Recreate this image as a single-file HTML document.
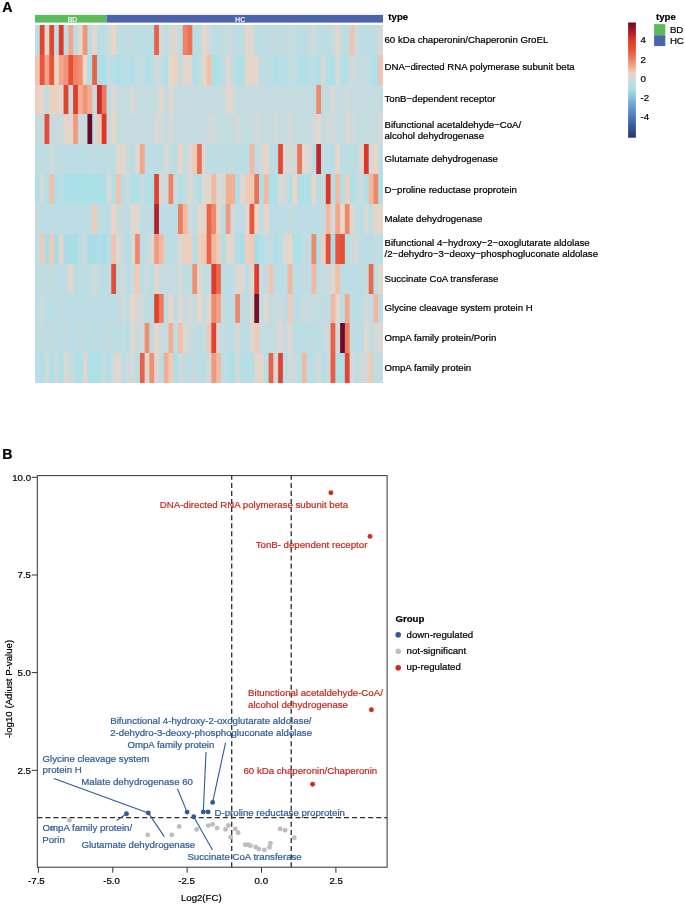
<!DOCTYPE html>
<html lang="en"><head><meta charset="utf-8"><title>Figure</title>
<style>html,body{margin:0;padding:0;background:#fff}svg{display:block}text{font-family:"Liberation Sans",sans-serif;stroke-width:0.22px;paint-order:stroke fill}</style></head><body>
<svg width="685" height="904" viewBox="0 0 685 904">
<rect width="685" height="904" fill="#fff"/>
<text x="2.3" y="11.5" font-size="14.2" font-weight="bold" fill="#000" stroke="#000">A</text>
<rect x="35.0" y="14.9" width="71.51" height="7.7" fill="#5bbd5a"/>
<rect x="106.51" y="14.9" width="276.49" height="7.7" fill="#4c64ae"/>
<text x="72.5" y="21.6" font-size="6.7" fill="#fff" stroke="#fff" text-anchor="middle">BD</text>
<text x="240.2" y="21.6" font-size="6.7" fill="#fff" stroke="#fff" text-anchor="middle">HC</text>
<text x="388.3" y="19.9" font-size="9.66" font-weight="bold" fill="#000" stroke="#000">type</text>
<g>
<rect x="35.00" y="25.00" width="348.00" height="358.00" fill="#bcdde4"/>
<rect x="39.77" y="25.00" width="343.23" height="358.00" fill="#e44531"/>
<rect x="44.53" y="25.00" width="338.47" height="358.00" fill="#e0d7cf"/>
<rect x="49.30" y="25.00" width="333.70" height="358.00" fill="#e44531"/>
<rect x="54.07" y="25.00" width="328.93" height="358.00" fill="#bcdde4"/>
<rect x="58.84" y="25.00" width="324.16" height="358.00" fill="#e0382a"/>
<rect x="63.60" y="25.00" width="319.40" height="358.00" fill="#bcdde4"/>
<rect x="68.37" y="25.00" width="314.63" height="358.00" fill="#f2a78c"/>
<rect x="73.14" y="25.00" width="309.86" height="358.00" fill="#bcdde4"/>
<rect x="77.90" y="25.00" width="305.10" height="358.00" fill="#e8d6c8"/>
<rect x="82.67" y="25.00" width="300.33" height="358.00" fill="#f09579"/>
<rect x="87.44" y="25.00" width="295.56" height="358.00" fill="#bcdde4"/>
<rect x="92.21" y="25.00" width="290.79" height="358.00" fill="#e8d6c8"/>
<rect x="96.97" y="25.00" width="286.03" height="358.00" fill="#bcdde4"/>
<rect x="106.51" y="25.00" width="276.49" height="358.00" fill="#cddadb"/>
<rect x="111.27" y="25.00" width="271.73" height="358.00" fill="#ecd5c5"/>
<rect x="116.04" y="25.00" width="266.96" height="358.00" fill="#c2dce1"/>
<rect x="120.81" y="25.00" width="262.19" height="358.00" fill="#bcdde4"/>
<rect x="125.58" y="25.00" width="257.42" height="358.00" fill="#c7dbde"/>
<rect x="130.34" y="25.00" width="252.66" height="358.00" fill="#bcdde4"/>
<rect x="154.18" y="25.00" width="228.82" height="358.00" fill="#ea6145"/>
<rect x="158.95" y="25.00" width="224.05" height="358.00" fill="#d2d9d8"/>
<rect x="163.71" y="25.00" width="219.29" height="358.00" fill="#bcdde4"/>
<rect x="168.48" y="25.00" width="214.52" height="358.00" fill="#dcd7d2"/>
<rect x="173.25" y="25.00" width="209.75" height="358.00" fill="#d8d8d5"/>
<rect x="178.01" y="25.00" width="204.99" height="358.00" fill="#c2dce1"/>
<rect x="182.78" y="25.00" width="200.22" height="358.00" fill="#ee8366"/>
<rect x="187.55" y="25.00" width="195.45" height="358.00" fill="#ec7356"/>
<rect x="192.32" y="25.00" width="190.68" height="358.00" fill="#bcdde4"/>
<rect x="201.85" y="25.00" width="181.15" height="358.00" fill="#ecd5c5"/>
<rect x="206.62" y="25.00" width="176.38" height="358.00" fill="#cddadb"/>
<rect x="211.38" y="25.00" width="171.62" height="358.00" fill="#bcdde4"/>
<rect x="220.92" y="25.00" width="162.08" height="358.00" fill="#c4dce0"/>
<rect x="230.45" y="25.00" width="152.55" height="358.00" fill="#c7dbde"/>
<rect x="235.22" y="25.00" width="147.78" height="358.00" fill="#bcdde4"/>
<rect x="244.75" y="25.00" width="138.25" height="358.00" fill="#e4d6cb"/>
<rect x="249.52" y="25.00" width="133.48" height="358.00" fill="#dcd7d2"/>
<rect x="254.29" y="25.00" width="128.71" height="358.00" fill="#bcdde4"/>
<rect x="268.59" y="25.00" width="114.41" height="358.00" fill="#c4dce0"/>
<rect x="278.12" y="25.00" width="104.88" height="358.00" fill="#bcdde4"/>
<rect x="282.89" y="25.00" width="100.11" height="358.00" fill="#c4dce0"/>
<rect x="297.19" y="25.00" width="85.81" height="358.00" fill="#bcdde4"/>
<rect x="306.73" y="25.00" width="76.27" height="358.00" fill="#c4dce0"/>
<rect x="311.49" y="25.00" width="71.51" height="358.00" fill="#d2d9d8"/>
<rect x="316.26" y="25.00" width="66.74" height="358.00" fill="#bcdde4"/>
<rect x="330.56" y="25.00" width="52.44" height="358.00" fill="#c7dbde"/>
<rect x="335.33" y="25.00" width="47.67" height="358.00" fill="#e0d7cf"/>
<rect x="340.10" y="25.00" width="42.90" height="358.00" fill="#c2dce1"/>
<rect x="344.86" y="25.00" width="38.14" height="358.00" fill="#bcdde4"/>
<rect x="349.63" y="25.00" width="33.37" height="358.00" fill="#f0c4af"/>
<rect x="354.40" y="25.00" width="28.60" height="358.00" fill="#cddadb"/>
<rect x="359.16" y="25.00" width="23.84" height="358.00" fill="#bcdde4"/>
<rect x="373.47" y="25.00" width="9.53" height="358.00" fill="#c2dce1"/>
<rect x="378.23" y="25.00" width="4.77" height="358.00" fill="#d8d8d5"/>
<rect x="35.00" y="55.00" width="348.00" height="328.00" fill="#f0c4af"/>
<rect x="39.77" y="55.00" width="343.23" height="328.00" fill="#e8553a"/>
<rect x="44.53" y="55.00" width="338.47" height="328.00" fill="#f1a186"/>
<rect x="49.30" y="55.00" width="333.70" height="328.00" fill="#e8553a"/>
<rect x="54.07" y="55.00" width="328.93" height="328.00" fill="#ecd5c5"/>
<rect x="58.84" y="55.00" width="324.16" height="328.00" fill="#f2a78c"/>
<rect x="63.60" y="55.00" width="319.40" height="328.00" fill="#f09579"/>
<rect x="68.37" y="55.00" width="314.63" height="328.00" fill="#e64f36"/>
<rect x="73.14" y="55.00" width="309.86" height="328.00" fill="#ee8366"/>
<rect x="77.90" y="55.00" width="305.10" height="328.00" fill="#f08f72"/>
<rect x="82.67" y="55.00" width="300.33" height="328.00" fill="#ecd5c5"/>
<rect x="87.44" y="55.00" width="295.56" height="328.00" fill="#afdfe7"/>
<rect x="92.21" y="55.00" width="290.79" height="328.00" fill="#ea6145"/>
<rect x="96.97" y="55.00" width="286.03" height="328.00" fill="#ace0e8"/>
<rect x="106.51" y="55.00" width="276.49" height="328.00" fill="#c2dce1"/>
<rect x="111.27" y="55.00" width="271.73" height="328.00" fill="#b9dee5"/>
<rect x="116.04" y="55.00" width="266.96" height="328.00" fill="#ace0e8"/>
<rect x="120.81" y="55.00" width="262.19" height="328.00" fill="#b9dee5"/>
<rect x="130.34" y="55.00" width="252.66" height="328.00" fill="#afdfe7"/>
<rect x="135.11" y="55.00" width="247.89" height="328.00" fill="#c2dce1"/>
<rect x="144.64" y="55.00" width="238.36" height="328.00" fill="#afdfe7"/>
<rect x="149.41" y="55.00" width="233.59" height="328.00" fill="#b9dee5"/>
<rect x="154.18" y="55.00" width="228.82" height="328.00" fill="#d2d9d8"/>
<rect x="158.95" y="55.00" width="224.05" height="328.00" fill="#c2dce1"/>
<rect x="163.71" y="55.00" width="219.29" height="328.00" fill="#afdfe7"/>
<rect x="168.48" y="55.00" width="214.52" height="328.00" fill="#e8d6c8"/>
<rect x="173.25" y="55.00" width="209.75" height="328.00" fill="#edcfbe"/>
<rect x="178.01" y="55.00" width="204.99" height="328.00" fill="#c7dbde"/>
<rect x="182.78" y="55.00" width="200.22" height="328.00" fill="#e4d6cb"/>
<rect x="192.32" y="55.00" width="190.68" height="328.00" fill="#afdfe7"/>
<rect x="197.08" y="55.00" width="185.92" height="328.00" fill="#c2dce1"/>
<rect x="201.85" y="55.00" width="181.15" height="328.00" fill="#e0d7cf"/>
<rect x="206.62" y="55.00" width="176.38" height="328.00" fill="#f2bfa7"/>
<rect x="211.38" y="55.00" width="171.62" height="328.00" fill="#afdfe7"/>
<rect x="220.92" y="55.00" width="162.08" height="328.00" fill="#bcdde4"/>
<rect x="225.68" y="55.00" width="157.32" height="328.00" fill="#e4d6cb"/>
<rect x="230.45" y="55.00" width="152.55" height="328.00" fill="#c2dce1"/>
<rect x="235.22" y="55.00" width="147.78" height="328.00" fill="#afdfe7"/>
<rect x="244.75" y="55.00" width="138.25" height="328.00" fill="#e4d6cb"/>
<rect x="259.05" y="55.00" width="123.95" height="328.00" fill="#bcdde4"/>
<rect x="263.82" y="55.00" width="119.18" height="328.00" fill="#c2dce1"/>
<rect x="268.59" y="55.00" width="114.41" height="328.00" fill="#b9dee5"/>
<rect x="273.36" y="55.00" width="109.64" height="328.00" fill="#afdfe7"/>
<rect x="278.12" y="55.00" width="104.88" height="328.00" fill="#b9dee5"/>
<rect x="287.66" y="55.00" width="95.34" height="328.00" fill="#c2dce1"/>
<rect x="292.42" y="55.00" width="90.58" height="328.00" fill="#c4dce0"/>
<rect x="297.19" y="55.00" width="85.81" height="328.00" fill="#afdfe7"/>
<rect x="306.73" y="55.00" width="76.27" height="328.00" fill="#b9dee5"/>
<rect x="316.26" y="55.00" width="66.74" height="328.00" fill="#afdfe7"/>
<rect x="321.03" y="55.00" width="61.97" height="328.00" fill="#d8d8d5"/>
<rect x="325.79" y="55.00" width="57.21" height="328.00" fill="#afdfe7"/>
<rect x="335.33" y="55.00" width="47.67" height="328.00" fill="#d8d8d5"/>
<rect x="340.10" y="55.00" width="42.90" height="328.00" fill="#afdfe7"/>
<rect x="344.86" y="55.00" width="38.14" height="328.00" fill="#bcdde4"/>
<rect x="349.63" y="55.00" width="33.37" height="328.00" fill="#d2d9d8"/>
<rect x="354.40" y="55.00" width="28.60" height="328.00" fill="#c7dbde"/>
<rect x="359.16" y="55.00" width="23.84" height="328.00" fill="#c2dce1"/>
<rect x="363.93" y="55.00" width="19.07" height="328.00" fill="#c7dbde"/>
<rect x="368.70" y="55.00" width="14.30" height="328.00" fill="#b9dee5"/>
<rect x="373.47" y="55.00" width="9.53" height="328.00" fill="#afdfe7"/>
<rect x="378.23" y="55.00" width="4.77" height="328.00" fill="#f0c4af"/>
<rect x="35.00" y="85.00" width="348.00" height="298.00" fill="#edcfbe"/>
<rect x="39.77" y="85.00" width="343.23" height="298.00" fill="#e4d6cb"/>
<rect x="44.53" y="85.00" width="338.47" height="298.00" fill="#c2dce1"/>
<rect x="49.30" y="85.00" width="333.70" height="298.00" fill="#edcfbe"/>
<rect x="58.84" y="85.00" width="324.16" height="298.00" fill="#e0d7cf"/>
<rect x="63.60" y="85.00" width="319.40" height="298.00" fill="#e3422f"/>
<rect x="68.37" y="85.00" width="314.63" height="298.00" fill="#c7dbde"/>
<rect x="73.14" y="85.00" width="309.86" height="298.00" fill="#e13b2c"/>
<rect x="77.90" y="85.00" width="305.10" height="298.00" fill="#f2ad93"/>
<rect x="82.67" y="85.00" width="300.33" height="298.00" fill="#f09579"/>
<rect x="87.44" y="85.00" width="295.56" height="298.00" fill="#f2ad93"/>
<rect x="92.21" y="85.00" width="290.79" height="298.00" fill="#cddadb"/>
<rect x="96.97" y="85.00" width="286.03" height="298.00" fill="#c92b28"/>
<rect x="101.74" y="85.00" width="281.26" height="298.00" fill="#ed7558"/>
<rect x="106.51" y="85.00" width="276.49" height="298.00" fill="#c2dce1"/>
<rect x="111.27" y="85.00" width="271.73" height="298.00" fill="#dcd7d2"/>
<rect x="116.04" y="85.00" width="266.96" height="298.00" fill="#c7dbde"/>
<rect x="120.81" y="85.00" width="262.19" height="298.00" fill="#c4dce0"/>
<rect x="130.34" y="85.00" width="252.66" height="298.00" fill="#d8d8d5"/>
<rect x="135.11" y="85.00" width="247.89" height="298.00" fill="#c4dce0"/>
<rect x="158.95" y="85.00" width="224.05" height="298.00" fill="#e4d6cb"/>
<rect x="163.71" y="85.00" width="219.29" height="298.00" fill="#c4dce0"/>
<rect x="168.48" y="85.00" width="214.52" height="298.00" fill="#e0d7cf"/>
<rect x="173.25" y="85.00" width="209.75" height="298.00" fill="#c4dce0"/>
<rect x="225.68" y="85.00" width="157.32" height="298.00" fill="#e4d6cb"/>
<rect x="230.45" y="85.00" width="152.55" height="298.00" fill="#d8d8d5"/>
<rect x="235.22" y="85.00" width="147.78" height="298.00" fill="#c4dce0"/>
<rect x="316.26" y="85.00" width="66.74" height="298.00" fill="#ef896c"/>
<rect x="321.03" y="85.00" width="61.97" height="298.00" fill="#c4dce0"/>
<rect x="330.56" y="85.00" width="52.44" height="298.00" fill="#d8d8d5"/>
<rect x="335.33" y="85.00" width="47.67" height="298.00" fill="#c4dce0"/>
<rect x="344.86" y="85.00" width="38.14" height="298.00" fill="#d2d9d8"/>
<rect x="349.63" y="85.00" width="33.37" height="298.00" fill="#c4dce0"/>
<rect x="35.00" y="114.00" width="348.00" height="269.00" fill="#c7dbde"/>
<rect x="44.53" y="114.00" width="338.47" height="269.00" fill="#e54b35"/>
<rect x="49.30" y="114.00" width="333.70" height="269.00" fill="#c7dbde"/>
<rect x="63.60" y="114.00" width="319.40" height="269.00" fill="#e4d6cb"/>
<rect x="73.14" y="114.00" width="309.86" height="269.00" fill="#f09b80"/>
<rect x="77.90" y="114.00" width="305.10" height="269.00" fill="#cddadb"/>
<rect x="82.67" y="114.00" width="300.33" height="269.00" fill="#c7dbde"/>
<rect x="87.44" y="114.00" width="295.56" height="269.00" fill="#6a0a2a"/>
<rect x="92.21" y="114.00" width="290.79" height="269.00" fill="#c7dbde"/>
<rect x="96.97" y="114.00" width="286.03" height="269.00" fill="#efcab6"/>
<rect x="101.74" y="114.00" width="281.26" height="269.00" fill="#df3528"/>
<rect x="106.51" y="114.00" width="276.49" height="269.00" fill="#c7dbde"/>
<rect x="111.27" y="114.00" width="271.73" height="269.00" fill="#e8d6c8"/>
<rect x="116.04" y="114.00" width="266.96" height="269.00" fill="#c7dbde"/>
<rect x="120.81" y="114.00" width="262.19" height="269.00" fill="#c4dce0"/>
<rect x="154.18" y="114.00" width="228.82" height="269.00" fill="#dcd7d2"/>
<rect x="158.95" y="114.00" width="224.05" height="269.00" fill="#d2d9d8"/>
<rect x="163.71" y="114.00" width="219.29" height="269.00" fill="#c4dce0"/>
<rect x="168.48" y="114.00" width="214.52" height="269.00" fill="#d5d8d6"/>
<rect x="173.25" y="114.00" width="209.75" height="269.00" fill="#c4dce0"/>
<rect x="206.62" y="114.00" width="176.38" height="269.00" fill="#d0dada"/>
<rect x="216.15" y="114.00" width="166.85" height="269.00" fill="#c4dce0"/>
<rect x="235.22" y="114.00" width="147.78" height="269.00" fill="#d2d9d8"/>
<rect x="239.99" y="114.00" width="143.01" height="269.00" fill="#c4dce0"/>
<rect x="254.29" y="114.00" width="128.71" height="269.00" fill="#d2d9d8"/>
<rect x="259.05" y="114.00" width="123.95" height="269.00" fill="#c4dce0"/>
<rect x="273.36" y="114.00" width="109.64" height="269.00" fill="#d2d9d8"/>
<rect x="278.12" y="114.00" width="104.88" height="269.00" fill="#c4dce0"/>
<rect x="287.66" y="114.00" width="95.34" height="269.00" fill="#d2d9d8"/>
<rect x="292.42" y="114.00" width="90.58" height="269.00" fill="#c4dce0"/>
<rect x="311.49" y="114.00" width="71.51" height="269.00" fill="#d2d9d8"/>
<rect x="316.26" y="114.00" width="66.74" height="269.00" fill="#e0d7cf"/>
<rect x="321.03" y="114.00" width="61.97" height="269.00" fill="#c4dce0"/>
<rect x="325.79" y="114.00" width="57.21" height="269.00" fill="#d2d9d8"/>
<rect x="330.56" y="114.00" width="52.44" height="269.00" fill="#d0dada"/>
<rect x="335.33" y="114.00" width="47.67" height="269.00" fill="#c4dce0"/>
<rect x="344.86" y="114.00" width="38.14" height="269.00" fill="#dcd7d2"/>
<rect x="349.63" y="114.00" width="33.37" height="269.00" fill="#d0dada"/>
<rect x="354.40" y="114.00" width="28.60" height="269.00" fill="#c4dce0"/>
<rect x="378.23" y="114.00" width="4.77" height="269.00" fill="#d5d8d6"/>
<rect x="35.00" y="144.00" width="348.00" height="239.00" fill="#bcdde4"/>
<rect x="39.77" y="144.00" width="343.23" height="239.00" fill="#c2dce1"/>
<rect x="44.53" y="144.00" width="338.47" height="239.00" fill="#bcdde4"/>
<rect x="49.30" y="144.00" width="333.70" height="239.00" fill="#cddadb"/>
<rect x="54.07" y="144.00" width="328.93" height="239.00" fill="#bcdde4"/>
<rect x="58.84" y="144.00" width="324.16" height="239.00" fill="#c4dce0"/>
<rect x="63.60" y="144.00" width="319.40" height="239.00" fill="#bcdde4"/>
<rect x="92.21" y="144.00" width="290.79" height="239.00" fill="#c2dce1"/>
<rect x="96.97" y="144.00" width="286.03" height="239.00" fill="#bcdde4"/>
<rect x="106.51" y="144.00" width="276.49" height="239.00" fill="#c2dce1"/>
<rect x="111.27" y="144.00" width="271.73" height="239.00" fill="#bcdde4"/>
<rect x="116.04" y="144.00" width="266.96" height="239.00" fill="#e0d7cf"/>
<rect x="120.81" y="144.00" width="262.19" height="239.00" fill="#e4d6cb"/>
<rect x="125.58" y="144.00" width="257.42" height="239.00" fill="#c7dbde"/>
<rect x="130.34" y="144.00" width="252.66" height="239.00" fill="#bcdde4"/>
<rect x="135.11" y="144.00" width="247.89" height="239.00" fill="#e0d7cf"/>
<rect x="139.88" y="144.00" width="243.12" height="239.00" fill="#f2a78c"/>
<rect x="144.64" y="144.00" width="238.36" height="239.00" fill="#bcdde4"/>
<rect x="163.71" y="144.00" width="219.29" height="239.00" fill="#d8d8d5"/>
<rect x="168.48" y="144.00" width="214.52" height="239.00" fill="#c2dce1"/>
<rect x="173.25" y="144.00" width="209.75" height="239.00" fill="#bcdde4"/>
<rect x="178.01" y="144.00" width="204.99" height="239.00" fill="#ecd5c5"/>
<rect x="182.78" y="144.00" width="200.22" height="239.00" fill="#c2dce1"/>
<rect x="187.55" y="144.00" width="195.45" height="239.00" fill="#dcd7d2"/>
<rect x="192.32" y="144.00" width="190.68" height="239.00" fill="#efcab6"/>
<rect x="197.08" y="144.00" width="185.92" height="239.00" fill="#ec6d50"/>
<rect x="201.85" y="144.00" width="181.15" height="239.00" fill="#d8d8d5"/>
<rect x="206.62" y="144.00" width="176.38" height="239.00" fill="#bcdde4"/>
<rect x="220.92" y="144.00" width="162.08" height="239.00" fill="#c4dce0"/>
<rect x="225.68" y="144.00" width="157.32" height="239.00" fill="#bcdde4"/>
<rect x="230.45" y="144.00" width="152.55" height="239.00" fill="#c4dce0"/>
<rect x="235.22" y="144.00" width="147.78" height="239.00" fill="#bcdde4"/>
<rect x="249.52" y="144.00" width="133.48" height="239.00" fill="#f3b9a0"/>
<rect x="254.29" y="144.00" width="128.71" height="239.00" fill="#bcdde4"/>
<rect x="259.05" y="144.00" width="123.95" height="239.00" fill="#d2d9d8"/>
<rect x="263.82" y="144.00" width="119.18" height="239.00" fill="#ecd5c5"/>
<rect x="268.59" y="144.00" width="114.41" height="239.00" fill="#bcdde4"/>
<rect x="278.12" y="144.00" width="104.88" height="239.00" fill="#e44833"/>
<rect x="282.89" y="144.00" width="100.11" height="239.00" fill="#d8d8d5"/>
<rect x="292.42" y="144.00" width="90.58" height="239.00" fill="#d0dada"/>
<rect x="297.19" y="144.00" width="85.81" height="239.00" fill="#ed7558"/>
<rect x="301.96" y="144.00" width="81.04" height="239.00" fill="#e0d7cf"/>
<rect x="306.73" y="144.00" width="76.27" height="239.00" fill="#dcd7d2"/>
<rect x="311.49" y="144.00" width="71.51" height="239.00" fill="#bcdde4"/>
<rect x="316.26" y="144.00" width="66.74" height="239.00" fill="#c02728"/>
<rect x="321.03" y="144.00" width="61.97" height="239.00" fill="#bcdde4"/>
<rect x="335.33" y="144.00" width="47.67" height="239.00" fill="#e4d6cb"/>
<rect x="340.10" y="144.00" width="42.90" height="239.00" fill="#bcdde4"/>
<rect x="359.16" y="144.00" width="23.84" height="239.00" fill="#e4d6cb"/>
<rect x="363.93" y="144.00" width="19.07" height="239.00" fill="#df3528"/>
<rect x="368.70" y="144.00" width="14.30" height="239.00" fill="#d2d9d8"/>
<rect x="373.47" y="144.00" width="9.53" height="239.00" fill="#ecd5c5"/>
<rect x="378.23" y="144.00" width="4.77" height="239.00" fill="#bcdde4"/>
<rect x="35.00" y="174.00" width="348.00" height="209.00" fill="#afdfe7"/>
<rect x="39.77" y="174.00" width="343.23" height="209.00" fill="#d8d8d5"/>
<rect x="44.53" y="174.00" width="338.47" height="209.00" fill="#afdfe7"/>
<rect x="49.30" y="174.00" width="333.70" height="209.00" fill="#f2bfa7"/>
<rect x="54.07" y="174.00" width="328.93" height="209.00" fill="#afdfe7"/>
<rect x="58.84" y="174.00" width="324.16" height="209.00" fill="#bcdde4"/>
<rect x="63.60" y="174.00" width="319.40" height="209.00" fill="#ace0e8"/>
<rect x="106.51" y="174.00" width="276.49" height="209.00" fill="#d8d8d5"/>
<rect x="111.27" y="174.00" width="271.73" height="209.00" fill="#afdfe7"/>
<rect x="116.04" y="174.00" width="266.96" height="209.00" fill="#f2bfa7"/>
<rect x="120.81" y="174.00" width="262.19" height="209.00" fill="#b6dee6"/>
<rect x="125.58" y="174.00" width="257.42" height="209.00" fill="#cddadb"/>
<rect x="130.34" y="174.00" width="252.66" height="209.00" fill="#afdfe7"/>
<rect x="139.88" y="174.00" width="243.12" height="209.00" fill="#c7dbde"/>
<rect x="144.64" y="174.00" width="238.36" height="209.00" fill="#afdfe7"/>
<rect x="154.18" y="174.00" width="228.82" height="209.00" fill="#e3422f"/>
<rect x="158.95" y="174.00" width="224.05" height="209.00" fill="#d2d9d8"/>
<rect x="168.48" y="174.00" width="214.52" height="209.00" fill="#ee8366"/>
<rect x="173.25" y="174.00" width="209.75" height="209.00" fill="#cddadb"/>
<rect x="178.01" y="174.00" width="204.99" height="209.00" fill="#afdfe7"/>
<rect x="182.78" y="174.00" width="200.22" height="209.00" fill="#c7dbde"/>
<rect x="187.55" y="174.00" width="195.45" height="209.00" fill="#d8d8d5"/>
<rect x="192.32" y="174.00" width="190.68" height="209.00" fill="#c7dbde"/>
<rect x="197.08" y="174.00" width="185.92" height="209.00" fill="#afdfe7"/>
<rect x="201.85" y="174.00" width="181.15" height="209.00" fill="#e0d7cf"/>
<rect x="211.38" y="174.00" width="171.62" height="209.00" fill="#f3b9a0"/>
<rect x="216.15" y="174.00" width="166.85" height="209.00" fill="#d8d8d5"/>
<rect x="225.68" y="174.00" width="157.32" height="209.00" fill="#f2b096"/>
<rect x="235.22" y="174.00" width="147.78" height="209.00" fill="#afdfe7"/>
<rect x="239.99" y="174.00" width="143.01" height="209.00" fill="#e0d7cf"/>
<rect x="244.75" y="174.00" width="138.25" height="209.00" fill="#efcab6"/>
<rect x="254.29" y="174.00" width="128.71" height="209.00" fill="#ec7154"/>
<rect x="259.05" y="174.00" width="123.95" height="209.00" fill="#afdfe7"/>
<rect x="263.82" y="174.00" width="119.18" height="209.00" fill="#f3b9a0"/>
<rect x="268.59" y="174.00" width="114.41" height="209.00" fill="#afdfe7"/>
<rect x="278.12" y="174.00" width="104.88" height="209.00" fill="#d8d8d5"/>
<rect x="282.89" y="174.00" width="100.11" height="209.00" fill="#d2d9d8"/>
<rect x="287.66" y="174.00" width="95.34" height="209.00" fill="#afdfe7"/>
<rect x="292.42" y="174.00" width="90.58" height="209.00" fill="#ecd5c5"/>
<rect x="297.19" y="174.00" width="85.81" height="209.00" fill="#afdfe7"/>
<rect x="311.49" y="174.00" width="71.51" height="209.00" fill="#ecd5c5"/>
<rect x="316.26" y="174.00" width="66.74" height="209.00" fill="#afdfe7"/>
<rect x="321.03" y="174.00" width="61.97" height="209.00" fill="#cddadb"/>
<rect x="325.79" y="174.00" width="57.21" height="209.00" fill="#df3528"/>
<rect x="330.56" y="174.00" width="52.44" height="209.00" fill="#afdfe7"/>
<rect x="335.33" y="174.00" width="47.67" height="209.00" fill="#f3b9a0"/>
<rect x="340.10" y="174.00" width="42.90" height="209.00" fill="#afdfe7"/>
<rect x="344.86" y="174.00" width="38.14" height="209.00" fill="#edcfbe"/>
<rect x="349.63" y="174.00" width="33.37" height="209.00" fill="#afdfe7"/>
<rect x="354.40" y="174.00" width="28.60" height="209.00" fill="#c2dce1"/>
<rect x="359.16" y="174.00" width="23.84" height="209.00" fill="#cddadb"/>
<rect x="363.93" y="174.00" width="19.07" height="209.00" fill="#afdfe7"/>
<rect x="368.70" y="174.00" width="14.30" height="209.00" fill="#f3b9a0"/>
<rect x="373.47" y="174.00" width="9.53" height="209.00" fill="#ef896c"/>
<rect x="378.23" y="174.00" width="4.77" height="209.00" fill="#afdfe7"/>
<rect x="35.00" y="204.00" width="348.00" height="179.00" fill="#c7dbde"/>
<rect x="39.77" y="204.00" width="343.23" height="179.00" fill="#bcdde4"/>
<rect x="92.21" y="204.00" width="290.79" height="179.00" fill="#efcab6"/>
<rect x="96.97" y="204.00" width="286.03" height="179.00" fill="#bcdde4"/>
<rect x="111.27" y="204.00" width="271.73" height="179.00" fill="#ecd5c5"/>
<rect x="116.04" y="204.00" width="266.96" height="179.00" fill="#c7dbde"/>
<rect x="125.58" y="204.00" width="257.42" height="179.00" fill="#bcdde4"/>
<rect x="130.34" y="204.00" width="252.66" height="179.00" fill="#e0d7cf"/>
<rect x="139.88" y="204.00" width="243.12" height="179.00" fill="#bcdde4"/>
<rect x="144.64" y="204.00" width="238.36" height="179.00" fill="#c4dce0"/>
<rect x="149.41" y="204.00" width="233.59" height="179.00" fill="#bcdde4"/>
<rect x="154.18" y="204.00" width="228.82" height="179.00" fill="#b32128"/>
<rect x="158.95" y="204.00" width="224.05" height="179.00" fill="#bcdde4"/>
<rect x="178.01" y="204.00" width="204.99" height="179.00" fill="#ee7d5f"/>
<rect x="182.78" y="204.00" width="200.22" height="179.00" fill="#f3b9a0"/>
<rect x="187.55" y="204.00" width="195.45" height="179.00" fill="#d2d9d8"/>
<rect x="192.32" y="204.00" width="190.68" height="179.00" fill="#bcdde4"/>
<rect x="197.08" y="204.00" width="185.92" height="179.00" fill="#e8d6c8"/>
<rect x="201.85" y="204.00" width="181.15" height="179.00" fill="#e0d7cf"/>
<rect x="206.62" y="204.00" width="176.38" height="179.00" fill="#ea6549"/>
<rect x="211.38" y="204.00" width="171.62" height="179.00" fill="#ef896c"/>
<rect x="216.15" y="204.00" width="166.85" height="179.00" fill="#e0d7cf"/>
<rect x="220.92" y="204.00" width="162.08" height="179.00" fill="#bcdde4"/>
<rect x="225.68" y="204.00" width="157.32" height="179.00" fill="#f09b80"/>
<rect x="230.45" y="204.00" width="152.55" height="179.00" fill="#d2d9d8"/>
<rect x="235.22" y="204.00" width="147.78" height="179.00" fill="#bcdde4"/>
<rect x="244.75" y="204.00" width="138.25" height="179.00" fill="#e0d7cf"/>
<rect x="249.52" y="204.00" width="133.48" height="179.00" fill="#e8553a"/>
<rect x="254.29" y="204.00" width="128.71" height="179.00" fill="#ecd5c5"/>
<rect x="259.05" y="204.00" width="123.95" height="179.00" fill="#bcdde4"/>
<rect x="263.82" y="204.00" width="119.18" height="179.00" fill="#ecd5c5"/>
<rect x="268.59" y="204.00" width="114.41" height="179.00" fill="#bcdde4"/>
<rect x="287.66" y="204.00" width="95.34" height="179.00" fill="#c7dbde"/>
<rect x="292.42" y="204.00" width="90.58" height="179.00" fill="#bcdde4"/>
<rect x="321.03" y="204.00" width="61.97" height="179.00" fill="#c7dbde"/>
<rect x="325.79" y="204.00" width="57.21" height="179.00" fill="#f3b9a0"/>
<rect x="330.56" y="204.00" width="52.44" height="179.00" fill="#d2d9d8"/>
<rect x="335.33" y="204.00" width="47.67" height="179.00" fill="#f2a78c"/>
<rect x="340.10" y="204.00" width="42.90" height="179.00" fill="#ecd5c5"/>
<rect x="344.86" y="204.00" width="38.14" height="179.00" fill="#ef896c"/>
<rect x="349.63" y="204.00" width="33.37" height="179.00" fill="#e4d6cb"/>
<rect x="354.40" y="204.00" width="28.60" height="179.00" fill="#c2dce1"/>
<rect x="359.16" y="204.00" width="23.84" height="179.00" fill="#bcdde4"/>
<rect x="363.93" y="204.00" width="19.07" height="179.00" fill="#d8d8d5"/>
<rect x="368.70" y="204.00" width="14.30" height="179.00" fill="#bcdde4"/>
<rect x="373.47" y="204.00" width="9.53" height="179.00" fill="#e4d6cb"/>
<rect x="378.23" y="204.00" width="4.77" height="179.00" fill="#e8d6c8"/>
<rect x="35.00" y="234.00" width="348.00" height="149.00" fill="#bcdde4"/>
<rect x="39.77" y="234.00" width="343.23" height="149.00" fill="#efcab6"/>
<rect x="44.53" y="234.00" width="338.47" height="149.00" fill="#a8dde7"/>
<rect x="49.30" y="234.00" width="333.70" height="149.00" fill="#efcab6"/>
<rect x="54.07" y="234.00" width="328.93" height="149.00" fill="#a8dde7"/>
<rect x="58.84" y="234.00" width="324.16" height="149.00" fill="#e4d6cb"/>
<rect x="63.60" y="234.00" width="319.40" height="149.00" fill="#a8dde7"/>
<rect x="77.90" y="234.00" width="305.10" height="149.00" fill="#bcdde4"/>
<rect x="82.67" y="234.00" width="300.33" height="149.00" fill="#c7dbde"/>
<rect x="87.44" y="234.00" width="295.56" height="149.00" fill="#a8dde7"/>
<rect x="96.97" y="234.00" width="286.03" height="149.00" fill="#afdfe7"/>
<rect x="101.74" y="234.00" width="281.26" height="149.00" fill="#a8dde7"/>
<rect x="106.51" y="234.00" width="276.49" height="149.00" fill="#b9dee5"/>
<rect x="111.27" y="234.00" width="271.73" height="149.00" fill="#f0c4af"/>
<rect x="116.04" y="234.00" width="266.96" height="149.00" fill="#d8d8d5"/>
<rect x="120.81" y="234.00" width="262.19" height="149.00" fill="#c7dbde"/>
<rect x="125.58" y="234.00" width="257.42" height="149.00" fill="#afdfe7"/>
<rect x="130.34" y="234.00" width="252.66" height="149.00" fill="#d8d8d5"/>
<rect x="135.11" y="234.00" width="247.89" height="149.00" fill="#ef896c"/>
<rect x="139.88" y="234.00" width="243.12" height="149.00" fill="#b9dee5"/>
<rect x="144.64" y="234.00" width="238.36" height="149.00" fill="#c2dce1"/>
<rect x="149.41" y="234.00" width="233.59" height="149.00" fill="#dcd7d2"/>
<rect x="154.18" y="234.00" width="228.82" height="149.00" fill="#f09b80"/>
<rect x="158.95" y="234.00" width="224.05" height="149.00" fill="#f3b9a0"/>
<rect x="163.71" y="234.00" width="219.29" height="149.00" fill="#c7dbde"/>
<rect x="168.48" y="234.00" width="214.52" height="149.00" fill="#b9dee5"/>
<rect x="173.25" y="234.00" width="209.75" height="149.00" fill="#c2dce1"/>
<rect x="178.01" y="234.00" width="204.99" height="149.00" fill="#d8d8d5"/>
<rect x="182.78" y="234.00" width="200.22" height="149.00" fill="#edcfbe"/>
<rect x="192.32" y="234.00" width="190.68" height="149.00" fill="#afdfe7"/>
<rect x="197.08" y="234.00" width="185.92" height="149.00" fill="#edcfbe"/>
<rect x="201.85" y="234.00" width="181.15" height="149.00" fill="#efcab6"/>
<rect x="206.62" y="234.00" width="176.38" height="149.00" fill="#ea6549"/>
<rect x="211.38" y="234.00" width="171.62" height="149.00" fill="#f3b9a0"/>
<rect x="216.15" y="234.00" width="166.85" height="149.00" fill="#efcab6"/>
<rect x="220.92" y="234.00" width="162.08" height="149.00" fill="#afdfe7"/>
<rect x="225.68" y="234.00" width="157.32" height="149.00" fill="#e4d6cb"/>
<rect x="230.45" y="234.00" width="152.55" height="149.00" fill="#dcd7d2"/>
<rect x="235.22" y="234.00" width="147.78" height="149.00" fill="#afdfe7"/>
<rect x="239.99" y="234.00" width="143.01" height="149.00" fill="#a8dde7"/>
<rect x="244.75" y="234.00" width="138.25" height="149.00" fill="#edcfbe"/>
<rect x="249.52" y="234.00" width="133.48" height="149.00" fill="#efcab6"/>
<rect x="254.29" y="234.00" width="128.71" height="149.00" fill="#a8dde7"/>
<rect x="259.05" y="234.00" width="123.95" height="149.00" fill="#afdfe7"/>
<rect x="263.82" y="234.00" width="119.18" height="149.00" fill="#c2dce1"/>
<rect x="268.59" y="234.00" width="114.41" height="149.00" fill="#c4dce0"/>
<rect x="273.36" y="234.00" width="109.64" height="149.00" fill="#afdfe7"/>
<rect x="278.12" y="234.00" width="104.88" height="149.00" fill="#b9dee5"/>
<rect x="282.89" y="234.00" width="100.11" height="149.00" fill="#dcd7d2"/>
<rect x="287.66" y="234.00" width="95.34" height="149.00" fill="#e8d6c8"/>
<rect x="292.42" y="234.00" width="90.58" height="149.00" fill="#afdfe7"/>
<rect x="301.96" y="234.00" width="81.04" height="149.00" fill="#c2dce1"/>
<rect x="311.49" y="234.00" width="71.51" height="149.00" fill="#ef896c"/>
<rect x="316.26" y="234.00" width="66.74" height="149.00" fill="#afdfe7"/>
<rect x="321.03" y="234.00" width="61.97" height="149.00" fill="#edcfbe"/>
<rect x="325.79" y="234.00" width="57.21" height="149.00" fill="#e64f36"/>
<rect x="330.56" y="234.00" width="52.44" height="149.00" fill="#a8dde7"/>
<rect x="335.33" y="234.00" width="47.67" height="149.00" fill="#e8553a"/>
<rect x="340.10" y="234.00" width="42.90" height="149.00" fill="#e64f36"/>
<rect x="344.86" y="234.00" width="38.14" height="149.00" fill="#b9dee5"/>
<rect x="349.63" y="234.00" width="33.37" height="149.00" fill="#cddadb"/>
<rect x="354.40" y="234.00" width="28.60" height="149.00" fill="#d2d9d8"/>
<rect x="359.16" y="234.00" width="23.84" height="149.00" fill="#bcdde4"/>
<rect x="373.47" y="234.00" width="9.53" height="149.00" fill="#c2dce1"/>
<rect x="378.23" y="234.00" width="4.77" height="149.00" fill="#b9dee5"/>
<rect x="35.00" y="264.00" width="348.00" height="119.00" fill="#bcdde4"/>
<rect x="39.77" y="264.00" width="343.23" height="119.00" fill="#c4dce0"/>
<rect x="44.53" y="264.00" width="338.47" height="119.00" fill="#bcdde4"/>
<rect x="49.30" y="264.00" width="333.70" height="119.00" fill="#c7dbde"/>
<rect x="54.07" y="264.00" width="328.93" height="119.00" fill="#bcdde4"/>
<rect x="63.60" y="264.00" width="319.40" height="119.00" fill="#c2dce1"/>
<rect x="68.37" y="264.00" width="314.63" height="119.00" fill="#e4d6cb"/>
<rect x="73.14" y="264.00" width="309.86" height="119.00" fill="#bcdde4"/>
<rect x="92.21" y="264.00" width="290.79" height="119.00" fill="#d2d9d8"/>
<rect x="96.97" y="264.00" width="286.03" height="119.00" fill="#c2dce1"/>
<rect x="101.74" y="264.00" width="281.26" height="119.00" fill="#bcdde4"/>
<rect x="111.27" y="264.00" width="271.73" height="119.00" fill="#e54b35"/>
<rect x="116.04" y="264.00" width="266.96" height="119.00" fill="#bcdde4"/>
<rect x="120.81" y="264.00" width="262.19" height="119.00" fill="#d2d9d8"/>
<rect x="125.58" y="264.00" width="257.42" height="119.00" fill="#b6dee6"/>
<rect x="130.34" y="264.00" width="252.66" height="119.00" fill="#cddadb"/>
<rect x="135.11" y="264.00" width="247.89" height="119.00" fill="#efcab6"/>
<rect x="139.88" y="264.00" width="243.12" height="119.00" fill="#b9dee5"/>
<rect x="144.64" y="264.00" width="238.36" height="119.00" fill="#cddadb"/>
<rect x="149.41" y="264.00" width="233.59" height="119.00" fill="#b6dee6"/>
<rect x="154.18" y="264.00" width="228.82" height="119.00" fill="#e8d6c8"/>
<rect x="158.95" y="264.00" width="224.05" height="119.00" fill="#c4dce0"/>
<rect x="178.01" y="264.00" width="204.99" height="119.00" fill="#d2d9d8"/>
<rect x="182.78" y="264.00" width="200.22" height="119.00" fill="#bcdde4"/>
<rect x="187.55" y="264.00" width="195.45" height="119.00" fill="#c4dce0"/>
<rect x="192.32" y="264.00" width="190.68" height="119.00" fill="#f08f72"/>
<rect x="197.08" y="264.00" width="185.92" height="119.00" fill="#dcd7d2"/>
<rect x="201.85" y="264.00" width="181.15" height="119.00" fill="#c7dbde"/>
<rect x="206.62" y="264.00" width="176.38" height="119.00" fill="#bcdde4"/>
<rect x="211.38" y="264.00" width="171.62" height="119.00" fill="#e0382a"/>
<rect x="216.15" y="264.00" width="166.85" height="119.00" fill="#eb694c"/>
<rect x="220.92" y="264.00" width="162.08" height="119.00" fill="#bcdde4"/>
<rect x="230.45" y="264.00" width="152.55" height="119.00" fill="#c2dce1"/>
<rect x="235.22" y="264.00" width="147.78" height="119.00" fill="#dcd7d2"/>
<rect x="244.75" y="264.00" width="138.25" height="119.00" fill="#bcdde4"/>
<rect x="249.52" y="264.00" width="133.48" height="119.00" fill="#e0d7cf"/>
<rect x="254.29" y="264.00" width="128.71" height="119.00" fill="#e13b2c"/>
<rect x="259.05" y="264.00" width="123.95" height="119.00" fill="#c2dce1"/>
<rect x="263.82" y="264.00" width="119.18" height="119.00" fill="#c7dbde"/>
<rect x="268.59" y="264.00" width="114.41" height="119.00" fill="#f0c4af"/>
<rect x="273.36" y="264.00" width="109.64" height="119.00" fill="#bcdde4"/>
<rect x="287.66" y="264.00" width="95.34" height="119.00" fill="#f3b9a0"/>
<rect x="292.42" y="264.00" width="90.58" height="119.00" fill="#bcdde4"/>
<rect x="301.96" y="264.00" width="81.04" height="119.00" fill="#c2dce1"/>
<rect x="306.73" y="264.00" width="76.27" height="119.00" fill="#bcdde4"/>
<rect x="311.49" y="264.00" width="71.51" height="119.00" fill="#f3b9a0"/>
<rect x="316.26" y="264.00" width="66.74" height="119.00" fill="#bcdde4"/>
<rect x="321.03" y="264.00" width="61.97" height="119.00" fill="#c7dbde"/>
<rect x="325.79" y="264.00" width="57.21" height="119.00" fill="#cddadb"/>
<rect x="330.56" y="264.00" width="52.44" height="119.00" fill="#dcd7d2"/>
<rect x="335.33" y="264.00" width="47.67" height="119.00" fill="#f2bfa7"/>
<rect x="340.10" y="264.00" width="42.90" height="119.00" fill="#bcdde4"/>
<rect x="363.93" y="264.00" width="19.07" height="119.00" fill="#c7dbde"/>
<rect x="368.70" y="264.00" width="14.30" height="119.00" fill="#eb694c"/>
<rect x="373.47" y="264.00" width="9.53" height="119.00" fill="#bcdde4"/>
<rect x="378.23" y="264.00" width="4.77" height="119.00" fill="#e4d6cb"/>
<rect x="35.00" y="294.00" width="348.00" height="89.00" fill="#bcdde4"/>
<rect x="39.77" y="294.00" width="343.23" height="89.00" fill="#cddadb"/>
<rect x="44.53" y="294.00" width="338.47" height="89.00" fill="#bcdde4"/>
<rect x="58.84" y="294.00" width="324.16" height="89.00" fill="#c4dce0"/>
<rect x="63.60" y="294.00" width="319.40" height="89.00" fill="#bcdde4"/>
<rect x="116.04" y="294.00" width="266.96" height="89.00" fill="#c4dce0"/>
<rect x="120.81" y="294.00" width="262.19" height="89.00" fill="#cddadb"/>
<rect x="125.58" y="294.00" width="257.42" height="89.00" fill="#bcdde4"/>
<rect x="130.34" y="294.00" width="252.66" height="89.00" fill="#ecd5c5"/>
<rect x="135.11" y="294.00" width="247.89" height="89.00" fill="#d2d9d8"/>
<rect x="144.64" y="294.00" width="238.36" height="89.00" fill="#bcdde4"/>
<rect x="154.18" y="294.00" width="228.82" height="89.00" fill="#e3422f"/>
<rect x="158.95" y="294.00" width="224.05" height="89.00" fill="#ee7d5f"/>
<rect x="163.71" y="294.00" width="219.29" height="89.00" fill="#bcdde4"/>
<rect x="168.48" y="294.00" width="214.52" height="89.00" fill="#ecd5c5"/>
<rect x="173.25" y="294.00" width="209.75" height="89.00" fill="#bcdde4"/>
<rect x="178.01" y="294.00" width="204.99" height="89.00" fill="#e0d7cf"/>
<rect x="182.78" y="294.00" width="200.22" height="89.00" fill="#c7dbde"/>
<rect x="187.55" y="294.00" width="195.45" height="89.00" fill="#d2d9d8"/>
<rect x="192.32" y="294.00" width="190.68" height="89.00" fill="#c2dce1"/>
<rect x="197.08" y="294.00" width="185.92" height="89.00" fill="#ecd5c5"/>
<rect x="201.85" y="294.00" width="181.15" height="89.00" fill="#c2dce1"/>
<rect x="206.62" y="294.00" width="176.38" height="89.00" fill="#e0d7cf"/>
<rect x="211.38" y="294.00" width="171.62" height="89.00" fill="#ef896c"/>
<rect x="216.15" y="294.00" width="166.85" height="89.00" fill="#f1a186"/>
<rect x="220.92" y="294.00" width="162.08" height="89.00" fill="#c7dbde"/>
<rect x="225.68" y="294.00" width="157.32" height="89.00" fill="#bcdde4"/>
<rect x="235.22" y="294.00" width="147.78" height="89.00" fill="#ef896c"/>
<rect x="239.99" y="294.00" width="143.01" height="89.00" fill="#bcdde4"/>
<rect x="244.75" y="294.00" width="138.25" height="89.00" fill="#c2dce1"/>
<rect x="249.52" y="294.00" width="133.48" height="89.00" fill="#d8d8d5"/>
<rect x="254.29" y="294.00" width="128.71" height="89.00" fill="#7a0e29"/>
<rect x="259.05" y="294.00" width="123.95" height="89.00" fill="#c2dce1"/>
<rect x="263.82" y="294.00" width="119.18" height="89.00" fill="#e0d7cf"/>
<rect x="268.59" y="294.00" width="114.41" height="89.00" fill="#c4dce0"/>
<rect x="278.12" y="294.00" width="104.88" height="89.00" fill="#cddadb"/>
<rect x="282.89" y="294.00" width="100.11" height="89.00" fill="#bcdde4"/>
<rect x="287.66" y="294.00" width="95.34" height="89.00" fill="#efcab6"/>
<rect x="292.42" y="294.00" width="90.58" height="89.00" fill="#bcdde4"/>
<rect x="301.96" y="294.00" width="81.04" height="89.00" fill="#cddadb"/>
<rect x="306.73" y="294.00" width="76.27" height="89.00" fill="#c4dce0"/>
<rect x="325.79" y="294.00" width="57.21" height="89.00" fill="#bcdde4"/>
<rect x="330.56" y="294.00" width="52.44" height="89.00" fill="#f3b9a0"/>
<rect x="335.33" y="294.00" width="47.67" height="89.00" fill="#e0d7cf"/>
<rect x="340.10" y="294.00" width="42.90" height="89.00" fill="#bcdde4"/>
<rect x="344.86" y="294.00" width="38.14" height="89.00" fill="#f2a78c"/>
<rect x="349.63" y="294.00" width="33.37" height="89.00" fill="#bcdde4"/>
<rect x="363.93" y="294.00" width="19.07" height="89.00" fill="#d2d9d8"/>
<rect x="368.70" y="294.00" width="14.30" height="89.00" fill="#c2dce1"/>
<rect x="373.47" y="294.00" width="9.53" height="89.00" fill="#f3b9a0"/>
<rect x="378.23" y="294.00" width="4.77" height="89.00" fill="#bcdde4"/>
<rect x="35.00" y="323.00" width="348.00" height="60.00" fill="#bcdde4"/>
<rect x="39.77" y="323.00" width="343.23" height="60.00" fill="#c4dce0"/>
<rect x="44.53" y="323.00" width="338.47" height="60.00" fill="#bcdde4"/>
<rect x="49.30" y="323.00" width="333.70" height="60.00" fill="#c7dbde"/>
<rect x="54.07" y="323.00" width="328.93" height="60.00" fill="#bcdde4"/>
<rect x="63.60" y="323.00" width="319.40" height="60.00" fill="#c7dbde"/>
<rect x="68.37" y="323.00" width="314.63" height="60.00" fill="#bcdde4"/>
<rect x="77.90" y="323.00" width="305.10" height="60.00" fill="#c7dbde"/>
<rect x="82.67" y="323.00" width="300.33" height="60.00" fill="#bcdde4"/>
<rect x="106.51" y="323.00" width="276.49" height="60.00" fill="#c7dbde"/>
<rect x="111.27" y="323.00" width="271.73" height="60.00" fill="#bcdde4"/>
<rect x="120.81" y="323.00" width="262.19" height="60.00" fill="#c2dce1"/>
<rect x="125.58" y="323.00" width="257.42" height="60.00" fill="#b6dee6"/>
<rect x="130.34" y="323.00" width="252.66" height="60.00" fill="#e0d7cf"/>
<rect x="135.11" y="323.00" width="247.89" height="60.00" fill="#c7dbde"/>
<rect x="139.88" y="323.00" width="243.12" height="60.00" fill="#d2d9d8"/>
<rect x="144.64" y="323.00" width="238.36" height="60.00" fill="#f08f72"/>
<rect x="149.41" y="323.00" width="233.59" height="60.00" fill="#bcdde4"/>
<rect x="154.18" y="323.00" width="228.82" height="60.00" fill="#e8d6c8"/>
<rect x="158.95" y="323.00" width="224.05" height="60.00" fill="#c7dbde"/>
<rect x="168.48" y="323.00" width="214.52" height="60.00" fill="#f2ad93"/>
<rect x="173.25" y="323.00" width="209.75" height="60.00" fill="#c2dce1"/>
<rect x="178.01" y="323.00" width="204.99" height="60.00" fill="#f2bfa7"/>
<rect x="182.78" y="323.00" width="200.22" height="60.00" fill="#dcd7d2"/>
<rect x="187.55" y="323.00" width="195.45" height="60.00" fill="#cddadb"/>
<rect x="192.32" y="323.00" width="190.68" height="60.00" fill="#c2dce1"/>
<rect x="197.08" y="323.00" width="185.92" height="60.00" fill="#bcdde4"/>
<rect x="201.85" y="323.00" width="181.15" height="60.00" fill="#c2dce1"/>
<rect x="206.62" y="323.00" width="176.38" height="60.00" fill="#efcab6"/>
<rect x="211.38" y="323.00" width="171.62" height="60.00" fill="#e3422f"/>
<rect x="216.15" y="323.00" width="166.85" height="60.00" fill="#d2d9d8"/>
<rect x="220.92" y="323.00" width="162.08" height="60.00" fill="#c2dce1"/>
<rect x="230.45" y="323.00" width="152.55" height="60.00" fill="#bcdde4"/>
<rect x="235.22" y="323.00" width="147.78" height="60.00" fill="#d8d8d5"/>
<rect x="239.99" y="323.00" width="143.01" height="60.00" fill="#bcdde4"/>
<rect x="249.52" y="323.00" width="133.48" height="60.00" fill="#dcd7d2"/>
<rect x="254.29" y="323.00" width="128.71" height="60.00" fill="#efcab6"/>
<rect x="259.05" y="323.00" width="123.95" height="60.00" fill="#c2dce1"/>
<rect x="273.36" y="323.00" width="109.64" height="60.00" fill="#c7dbde"/>
<rect x="278.12" y="323.00" width="104.88" height="60.00" fill="#dcd7d2"/>
<rect x="282.89" y="323.00" width="100.11" height="60.00" fill="#c7dbde"/>
<rect x="287.66" y="323.00" width="95.34" height="60.00" fill="#dcd7d2"/>
<rect x="292.42" y="323.00" width="90.58" height="60.00" fill="#bcdde4"/>
<rect x="297.19" y="323.00" width="85.81" height="60.00" fill="#b9dee5"/>
<rect x="301.96" y="323.00" width="81.04" height="60.00" fill="#bcdde4"/>
<rect x="306.73" y="323.00" width="76.27" height="60.00" fill="#b9dee5"/>
<rect x="311.49" y="323.00" width="71.51" height="60.00" fill="#c2dce1"/>
<rect x="316.26" y="323.00" width="66.74" height="60.00" fill="#b9dee5"/>
<rect x="321.03" y="323.00" width="61.97" height="60.00" fill="#c2dce1"/>
<rect x="325.79" y="323.00" width="57.21" height="60.00" fill="#d2d9d8"/>
<rect x="330.56" y="323.00" width="52.44" height="60.00" fill="#ea6145"/>
<rect x="335.33" y="323.00" width="47.67" height="60.00" fill="#d2d9d8"/>
<rect x="340.10" y="323.00" width="42.90" height="60.00" fill="#6d0b2a"/>
<rect x="344.86" y="323.00" width="38.14" height="60.00" fill="#ee7d5f"/>
<rect x="349.63" y="323.00" width="33.37" height="60.00" fill="#c2dce1"/>
<rect x="354.40" y="323.00" width="28.60" height="60.00" fill="#bcdde4"/>
<rect x="363.93" y="323.00" width="19.07" height="60.00" fill="#e0d7cf"/>
<rect x="368.70" y="323.00" width="14.30" height="60.00" fill="#c2dce1"/>
<rect x="373.47" y="323.00" width="9.53" height="60.00" fill="#d2d9d8"/>
<rect x="378.23" y="323.00" width="4.77" height="60.00" fill="#dcd7d2"/>
<rect x="35.00" y="353.00" width="348.00" height="30.00" fill="#b9dee5"/>
<rect x="39.77" y="353.00" width="343.23" height="30.00" fill="#afdfe7"/>
<rect x="44.53" y="353.00" width="338.47" height="30.00" fill="#d2d9d8"/>
<rect x="49.30" y="353.00" width="333.70" height="30.00" fill="#afdfe7"/>
<rect x="54.07" y="353.00" width="328.93" height="30.00" fill="#c7dbde"/>
<rect x="58.84" y="353.00" width="324.16" height="30.00" fill="#afdfe7"/>
<rect x="63.60" y="353.00" width="319.40" height="30.00" fill="#d8d8d5"/>
<rect x="68.37" y="353.00" width="314.63" height="30.00" fill="#cddadb"/>
<rect x="73.14" y="353.00" width="309.86" height="30.00" fill="#afdfe7"/>
<rect x="82.67" y="353.00" width="300.33" height="30.00" fill="#dcd7d2"/>
<rect x="87.44" y="353.00" width="295.56" height="30.00" fill="#afdfe7"/>
<rect x="101.74" y="353.00" width="281.26" height="30.00" fill="#c7dbde"/>
<rect x="106.51" y="353.00" width="276.49" height="30.00" fill="#afdfe7"/>
<rect x="111.27" y="353.00" width="271.73" height="30.00" fill="#d2d9d8"/>
<rect x="116.04" y="353.00" width="266.96" height="30.00" fill="#e4d6cb"/>
<rect x="120.81" y="353.00" width="262.19" height="30.00" fill="#b9dee5"/>
<rect x="125.58" y="353.00" width="257.42" height="30.00" fill="#d2d9d8"/>
<rect x="135.11" y="353.00" width="247.89" height="30.00" fill="#b9dee5"/>
<rect x="139.88" y="353.00" width="243.12" height="30.00" fill="#ea6145"/>
<rect x="144.64" y="353.00" width="238.36" height="30.00" fill="#dcd7d2"/>
<rect x="149.41" y="353.00" width="233.59" height="30.00" fill="#f08f72"/>
<rect x="154.18" y="353.00" width="228.82" height="30.00" fill="#e0d7cf"/>
<rect x="158.95" y="353.00" width="224.05" height="30.00" fill="#b9dee5"/>
<rect x="163.71" y="353.00" width="219.29" height="30.00" fill="#f2ad93"/>
<rect x="168.48" y="353.00" width="214.52" height="30.00" fill="#efcab6"/>
<rect x="173.25" y="353.00" width="209.75" height="30.00" fill="#ace0e8"/>
<rect x="178.01" y="353.00" width="204.99" height="30.00" fill="#cddadb"/>
<rect x="182.78" y="353.00" width="200.22" height="30.00" fill="#c2dce1"/>
<rect x="187.55" y="353.00" width="195.45" height="30.00" fill="#bcdde4"/>
<rect x="192.32" y="353.00" width="190.68" height="30.00" fill="#c7dbde"/>
<rect x="197.08" y="353.00" width="185.92" height="30.00" fill="#bcdde4"/>
<rect x="201.85" y="353.00" width="181.15" height="30.00" fill="#b9dee5"/>
<rect x="206.62" y="353.00" width="176.38" height="30.00" fill="#d2d9d8"/>
<rect x="211.38" y="353.00" width="171.62" height="30.00" fill="#f09b80"/>
<rect x="216.15" y="353.00" width="166.85" height="30.00" fill="#f3b9a0"/>
<rect x="220.92" y="353.00" width="162.08" height="30.00" fill="#b9dee5"/>
<rect x="230.45" y="353.00" width="152.55" height="30.00" fill="#afdfe7"/>
<rect x="235.22" y="353.00" width="147.78" height="30.00" fill="#d2d9d8"/>
<rect x="239.99" y="353.00" width="143.01" height="30.00" fill="#b6dee6"/>
<rect x="254.29" y="353.00" width="128.71" height="30.00" fill="#e0d7cf"/>
<rect x="259.05" y="353.00" width="123.95" height="30.00" fill="#e4d6cb"/>
<rect x="263.82" y="353.00" width="119.18" height="30.00" fill="#b6dee6"/>
<rect x="268.59" y="353.00" width="114.41" height="30.00" fill="#ea6145"/>
<rect x="273.36" y="353.00" width="109.64" height="30.00" fill="#d2d9d8"/>
<rect x="278.12" y="353.00" width="104.88" height="30.00" fill="#e3422f"/>
<rect x="282.89" y="353.00" width="100.11" height="30.00" fill="#b9dee5"/>
<rect x="287.66" y="353.00" width="95.34" height="30.00" fill="#d2d9d8"/>
<rect x="292.42" y="353.00" width="90.58" height="30.00" fill="#cddadb"/>
<rect x="297.19" y="353.00" width="85.81" height="30.00" fill="#b9dee5"/>
<rect x="301.96" y="353.00" width="81.04" height="30.00" fill="#f3b9a0"/>
<rect x="306.73" y="353.00" width="76.27" height="30.00" fill="#b9dee5"/>
<rect x="311.49" y="353.00" width="71.51" height="30.00" fill="#bcdde4"/>
<rect x="316.26" y="353.00" width="66.74" height="30.00" fill="#d2d9d8"/>
<rect x="321.03" y="353.00" width="61.97" height="30.00" fill="#b9dee5"/>
<rect x="325.79" y="353.00" width="57.21" height="30.00" fill="#cddadb"/>
<rect x="330.56" y="353.00" width="52.44" height="30.00" fill="#e95d41"/>
<rect x="335.33" y="353.00" width="47.67" height="30.00" fill="#afdfe7"/>
<rect x="344.86" y="353.00" width="38.14" height="30.00" fill="#e44531"/>
<rect x="349.63" y="353.00" width="33.37" height="30.00" fill="#d2d9d8"/>
<rect x="354.40" y="353.00" width="28.60" height="30.00" fill="#b9dee5"/>
<rect x="359.16" y="353.00" width="23.84" height="30.00" fill="#d2d9d8"/>
<rect x="368.70" y="353.00" width="14.30" height="30.00" fill="#efcab6"/>
<rect x="373.47" y="353.00" width="9.53" height="30.00" fill="#b9dee5"/>
<rect x="378.23" y="353.00" width="4.77" height="30.00" fill="#c7dbde"/>
</g>
<text x="384.5" y="42.8" font-size="9.65" fill="#000" stroke="#000">60 kDa chaperonin/Chaperonin GroEL</text>
<text x="384.5" y="70.2" font-size="9.65" fill="#000" stroke="#000">DNA−directed RNA polymerase subunit beta</text>
<text x="384.5" y="101.8" font-size="9.65" fill="#000" stroke="#000">TonB−dependent receptor</text>
<text x="384.5" y="127.7" font-size="9.65" fill="#000" stroke="#000">Bifunctional acetaldehyde−CoA/</text>
<text x="384.5" y="139.1" font-size="9.65" fill="#000" stroke="#000">alcohol dehydrogenase</text>
<text x="384.5" y="162.4" font-size="9.65" fill="#000" stroke="#000">Glutamate dehydrogenase</text>
<text x="384.5" y="193.3" font-size="9.65" fill="#000" stroke="#000">D−proline reductase proprotein</text>
<text x="384.5" y="222.0" font-size="9.65" fill="#000" stroke="#000">Malate dehydrogenase</text>
<text x="384.5" y="245.9" font-size="9.65" fill="#000" stroke="#000">Bifunctional 4−hydroxy−2−oxoglutarate aldolase</text>
<text x="384.5" y="257.3" font-size="9.65" fill="#000" stroke="#000">/2−dehydro−3−deoxy−phosphogluconate aldolase</text>
<text x="384.5" y="282.3" font-size="9.65" fill="#000" stroke="#000">Succinate CoA transferase</text>
<text x="384.5" y="311.3" font-size="9.65" fill="#000" stroke="#000">Glycine cleavage system protein H</text>
<text x="384.5" y="341.4" font-size="9.65" fill="#000" stroke="#000">OmpA family protein/Porin</text>
<text x="384.5" y="371.2" font-size="9.65" fill="#000" stroke="#000">OmpA family protein</text>
<defs><linearGradient id="cb" x1="0" y1="0" x2="0" y2="1">
<stop offset="0.0000" stop-color="#6a0a2a"/>
<stop offset="0.0694" stop-color="#a01928"/>
<stop offset="0.1524" stop-color="#df3528"/>
<stop offset="0.2354" stop-color="#e8553a"/>
<stop offset="0.3184" stop-color="#ee7d5f"/>
<stop offset="0.4014" stop-color="#f3b9a0"/>
<stop offset="0.4429" stop-color="#ecd5c5"/>
<stop offset="0.4844" stop-color="#d8d8d5"/>
<stop offset="0.5259" stop-color="#bcdde4"/>
<stop offset="0.5674" stop-color="#ace0e8"/>
<stop offset="0.6503" stop-color="#87c3dc"/>
<stop offset="0.7333" stop-color="#649bcd"/>
<stop offset="0.8163" stop-color="#4e78b9"/>
<stop offset="0.8993" stop-color="#375a9b"/>
<stop offset="0.9989" stop-color="#233a6a"/>
</linearGradient></defs>
<rect x="628.1" y="22.5" width="7.80" height="115.20" fill="url(#cb)"/>
<text x="640.6" y="43.4" font-size="9.66" fill="#000" stroke="#000">4</text>
<text x="640.6" y="62.5" font-size="9.66" fill="#000" stroke="#000">2</text>
<text x="640.6" y="81.6" font-size="9.66" fill="#000" stroke="#000">0</text>
<text x="640.6" y="100.7" font-size="9.66" fill="#000" stroke="#000">-2</text>
<text x="640.6" y="119.8" font-size="9.66" fill="#000" stroke="#000">-4</text>
<text x="656" y="19.8" font-size="9.66" font-weight="bold" fill="#000" stroke="#000">type</text>
<rect x="654.1" y="24.1" width="11.2" height="11.1" fill="#5bbd5a"/>
<rect x="654.1" y="35.2" width="11.2" height="10.9" fill="#4c64ae"/>
<text x="669.9" y="33" font-size="9.66" fill="#000" stroke="#000">BD</text>
<text x="669.9" y="44" font-size="9.66" fill="#000" stroke="#000">HC</text>
<text x="2.2" y="458.9" font-size="14.2" font-weight="bold" fill="#000" stroke="#000">B</text>
<line x1="231.7" y1="867.2" x2="231.7" y2="475.6" stroke="#2b2b2b" stroke-width="1.3" stroke-dasharray="5.0 3.07" fill="none"/>
<line x1="291.2" y1="867.2" x2="291.2" y2="475.6" stroke="#2b2b2b" stroke-width="1.3" stroke-dasharray="5.0 3.07" fill="none"/>
<line x1="37.3" y1="817.6" x2="387.1" y2="817.6" stroke="#2b2b2b" stroke-width="1.3" stroke-dasharray="5.0 3.07" fill="none"/>
<circle cx="69.4" cy="820.2" r="2.45" fill="#bebebe"/>
<circle cx="52.3" cy="828.6" r="2.45" fill="#bebebe"/>
<circle cx="147.7" cy="834.9" r="2.45" fill="#bebebe"/>
<circle cx="171.8" cy="834.9" r="2.45" fill="#bebebe"/>
<circle cx="179.2" cy="826.5" r="2.45" fill="#bebebe"/>
<circle cx="196.7" cy="829.4" r="2.45" fill="#bebebe"/>
<circle cx="208.2" cy="825.6" r="2.45" fill="#bebebe"/>
<circle cx="212.6" cy="824.3" r="2.45" fill="#bebebe"/>
<circle cx="217.1" cy="828.1" r="2.45" fill="#bebebe"/>
<circle cx="225.5" cy="829.4" r="2.45" fill="#bebebe"/>
<circle cx="228.4" cy="825.5" r="2.45" fill="#bebebe"/>
<circle cx="230.7" cy="837.3" r="2.45" fill="#bebebe"/>
<circle cx="235.2" cy="828.9" r="2.45" fill="#bebebe"/>
<circle cx="238.1" cy="832.8" r="2.45" fill="#bebebe"/>
<circle cx="245.2" cy="844.7" r="2.45" fill="#bebebe"/>
<circle cx="248.3" cy="844.7" r="2.45" fill="#bebebe"/>
<circle cx="250.4" cy="845.7" r="2.45" fill="#bebebe"/>
<circle cx="255.7" cy="847" r="2.45" fill="#bebebe"/>
<circle cx="258.8" cy="849.1" r="2.45" fill="#bebebe"/>
<circle cx="264.4" cy="849.9" r="2.45" fill="#bebebe"/>
<circle cx="269.6" cy="847.3" r="2.45" fill="#bebebe"/>
<circle cx="270.4" cy="843.3" r="2.45" fill="#bebebe"/>
<circle cx="280.1" cy="828.9" r="2.45" fill="#bebebe"/>
<circle cx="285.1" cy="830.2" r="2.45" fill="#bebebe"/>
<circle cx="294.3" cy="837.8" r="2.45" fill="#bebebe"/>
<line x1="53.9" y1="778.5" x2="148.3" y2="812.9" stroke="#2f5a96" stroke-width="1.1"/>
<line x1="148.3" y1="812.9" x2="164.3" y2="836.6" stroke="#2f5a96" stroke-width="1.1"/>
<line x1="126.5" y1="813.8" x2="116.7" y2="820.5" stroke="#2f5a96" stroke-width="1.1"/>
<line x1="177.4" y1="788.7" x2="187.1" y2="812.1" stroke="#2f5a96" stroke-width="1.1"/>
<line x1="193.7" y1="816.8" x2="212.5" y2="850" stroke="#2f5a96" stroke-width="1.1"/>
<line x1="206" y1="751.9" x2="203.3" y2="811.9" stroke="#2f5a96" stroke-width="1.1"/>
<line x1="225.6" y1="742.6" x2="212.6" y2="802.4" stroke="#2f5a96" stroke-width="1.1"/>
<circle cx="126.5" cy="813.8" r="2.45" fill="#2f5a96"/>
<circle cx="148.3" cy="812.9" r="2.45" fill="#2f5a96"/>
<circle cx="187.1" cy="812.1" r="2.45" fill="#2f5a96"/>
<circle cx="193.7" cy="816.8" r="2.45" fill="#2f5a96"/>
<circle cx="203.3" cy="811.9" r="2.45" fill="#2f5a96"/>
<circle cx="208.1" cy="811.9" r="2.45" fill="#2f5a96"/>
<circle cx="212.6" cy="802.4" r="2.45" fill="#2f5a96"/>
<circle cx="330.9" cy="492.8" r="2.45" fill="#d42a20"/>
<circle cx="370" cy="536.4" r="2.45" fill="#d42a20"/>
<circle cx="371.4" cy="709.8" r="2.45" fill="#d42a20"/>
<circle cx="312.6" cy="784.2" r="2.45" fill="#d42a20"/>
<text x="110.2" y="723.9" font-size="9.66" fill="#2f5a96" stroke="#2f5a96">Bifunctional 4-hydroxy-2-oxoglutarate aldolase/</text>
<text x="110.2" y="735.6" font-size="9.66" fill="#2f5a96" stroke="#2f5a96">2-dehydro-3-deoxy-phosphogluconate aldolase</text>
<text x="127.4" y="748.3" font-size="9.66" fill="#2f5a96" stroke="#2f5a96">OmpA family protein</text>
<text x="42.6" y="761.5" font-size="9.66" fill="#2f5a96" stroke="#2f5a96">Glycine cleavage system</text>
<text x="42.6" y="772.7" font-size="9.66" fill="#2f5a96" stroke="#2f5a96">protein H</text>
<text x="81.3" y="785.1" font-size="9.66" fill="#2f5a96" stroke="#2f5a96">Malate dehydrogenase 60</text>
<text x="214.5" y="815.5" font-size="9.66" fill="#2f5a96" stroke="#2f5a96">D-proline reductase proprotein</text>
<text x="42.5" y="831.1" font-size="9.66" fill="#2f5a96" stroke="#2f5a96">OmpA family protein/</text>
<text x="42.3" y="843.2" font-size="9.66" fill="#2f5a96" stroke="#2f5a96">Porin</text>
<text x="81.4" y="847.7" font-size="9.66" fill="#2f5a96" stroke="#2f5a96">Glutamate dehydrogenase</text>
<text x="187.4" y="860.2" font-size="9.66" fill="#2f5a96" stroke="#2f5a96">Succinate CoA transferase</text>
<text x="159.7" y="508" font-size="9.66" fill="#c8281e" stroke="#c8281e">DNA-directed RNA polymerase subunit beta</text>
<text x="255.7" y="548.2" font-size="9.66" fill="#c8281e" stroke="#c8281e">TonB- dependent receptor</text>
<text x="248.1" y="696.2" font-size="9.66" fill="#c8281e" stroke="#c8281e">Bitunctional acetaldehyde-CoA/</text>
<text x="248.1" y="708.3" font-size="9.66" fill="#c8281e" stroke="#c8281e">alcohol dehydrogenase</text>
<text x="243.5" y="774.3" font-size="9.66" fill="#c8281e" stroke="#c8281e">60 kDa chaperonin/Chaperonin</text>
<rect x="37.3" y="475.6" width="349.8" height="391.6" fill="none" stroke="#333333" stroke-width="1"/>
<line x1="31.8" y1="477.3" x2="37.3" y2="477.3" stroke="#333333" stroke-width="1"/>
<text x="31.0" y="480.7" font-size="9.66" fill="#000" stroke="#000" text-anchor="end">10.0</text>
<line x1="31.8" y1="575.0" x2="37.3" y2="575.0" stroke="#333333" stroke-width="1"/>
<text x="31.0" y="578.4" font-size="9.66" fill="#000" stroke="#000" text-anchor="end">7.5</text>
<line x1="31.8" y1="672.6" x2="37.3" y2="672.6" stroke="#333333" stroke-width="1"/>
<text x="31.0" y="676.0" font-size="9.66" fill="#000" stroke="#000" text-anchor="end">5.0</text>
<line x1="31.8" y1="770.3" x2="37.3" y2="770.3" stroke="#333333" stroke-width="1"/>
<text x="31.0" y="773.7" font-size="9.66" fill="#000" stroke="#000" text-anchor="end">2.5</text>
<line x1="38.4" y1="867.2" x2="38.4" y2="872.7" stroke="#333333" stroke-width="1"/>
<text x="36.4" y="884.3" font-size="9.66" fill="#000" stroke="#000" text-anchor="middle">-7.5</text>
<line x1="112.8" y1="867.2" x2="112.8" y2="872.7" stroke="#333333" stroke-width="1"/>
<text x="111.5" y="884.3" font-size="9.66" fill="#000" stroke="#000" text-anchor="middle">-5.0</text>
<line x1="187.1" y1="867.2" x2="187.1" y2="872.7" stroke="#333333" stroke-width="1"/>
<text x="186.6" y="884.3" font-size="9.66" fill="#000" stroke="#000" text-anchor="middle">-2.5</text>
<line x1="261.5" y1="867.2" x2="261.5" y2="872.7" stroke="#333333" stroke-width="1"/>
<text x="261.3" y="884.3" font-size="9.66" fill="#000" stroke="#000" text-anchor="middle">0.0</text>
<line x1="335.9" y1="867.2" x2="335.9" y2="872.7" stroke="#333333" stroke-width="1"/>
<text x="336.2" y="884.3" font-size="9.66" fill="#000" stroke="#000" text-anchor="middle">2.5</text>
<text x="201.3" y="900.6" font-size="9.66" fill="#000" stroke="#000" text-anchor="middle">Log2(FC)</text>
<text transform="translate(11.8,689) rotate(-90)" font-size="9.66" fill="#000" stroke="#000" text-anchor="middle">-log10 (Adiust P-value)</text>
<text x="395.4" y="622.4" font-size="9.66" font-weight="bold" fill="#000" stroke="#000">Group</text>
<circle cx="398.2" cy="634.7" r="2.8" fill="#2f5a96"/>
<text x="406.6" y="637.7" font-size="9.66" fill="#000" stroke="#000">down-regulated</text>
<circle cx="398.2" cy="651.3" r="2.8" fill="#bebebe"/>
<text x="406.6" y="654.0" font-size="9.66" fill="#000" stroke="#000">not-significant</text>
<circle cx="398.2" cy="667.8" r="2.8" fill="#d42a20"/>
<text x="406.6" y="670.2" font-size="9.66" fill="#000" stroke="#000">up-regulated</text>
</svg></body></html>
